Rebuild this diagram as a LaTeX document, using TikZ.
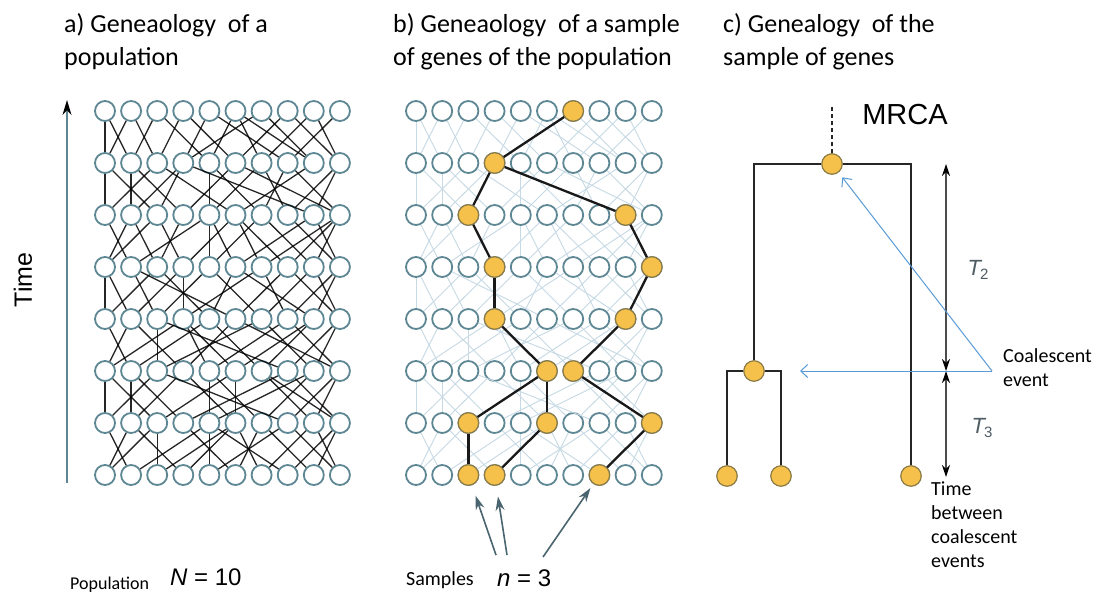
\documentclass[tikz,border=0pt]{standalone}
\usepackage{fontspec}
\setmainfont{Carlito}
\newfontfamily\arialfont{Liberation Sans}
\usetikzlibrary{arrows.meta}

\definecolor{ringcol}{HTML}{5E8794}
\definecolor{genecol}{HTML}{F6C14B}
\definecolor{generim}{HTML}{8C7B45}
\definecolor{faintcol}{HTML}{C6D9E4}
\definecolor{calloutcol}{HTML}{5B9BD5}
\definecolor{pointcol}{HTML}{4A6570}
\definecolor{labelcol}{HTML}{4E5C63}

\tikzset{
  indiv/.style={circle, draw=ringcol, line width=1.8pt, fill=white, minimum size=20pt, inner sep=0pt},
  gene/.style={circle, draw=generim, line width=1.2pt, fill=genecol, minimum size=20.5pt, inner sep=0pt},
  kin/.style={black, line width=1.3pt, opacity=0.85},
  faintkin/.style={faintcol, line width=0.9pt},
  lineage/.style={black!90, line width=2.3pt},
  branch/.style={black!85, line width=2.6pt},
  span/.style={black!70, line width=1.2pt, {Stealth[length=12pt,width=8pt,black]}-{Stealth[length=12pt,width=8pt,black]}},
  callout/.style={calloutcol, line width=1pt, -{Straight Barb[length=7pt,width=13pt]}},
  pointer/.style={pointcol, line width=1.6pt, -{Stealth[length=14pt,width=9pt]}},
  title/.style={anchor=north west, align=left, inner sep=0pt, font=\fontsize{26}{33}\selectfont},
  note/.style={anchor=west, align=left, inner sep=0pt, font=\fontsize{20}{24}\selectfont}
}

% parents (row above) of each gene, row by row
\newcommand\parentlist{%
  2/{2/1,1/3,2/4,7/5,3/6,8/4,6/9,5/10,7/6,8/9},
  3/{1/3,4/2,4/1,2/6,5/7,9/3,8/5,10/7,4/10,8/6},
  4/{2/3,1/5,4/2,3/6,7/5,5/9,6/10,10/6,7/10,9/8},
  5/{3/1,1/4,5/2,4/7,6/3,8/2,9/5,7/10,10/6,8/9},
  6/{2/4,5/1,3/7,6/2,8/4,4/9,9/5,10/3,7/10,6/8},
  7/{1/3,4/2,6/1,2/8,5/9,6/4,9/5,3/10,10/7,7/8},
  8/{2/3,1/5,3/6,6/2,5/8,4/7,9/6,10/5,7/10,8/9}}

\begin{document}
\begin{tikzpicture}[x=1pt, y=-1pt]
	\useasboundingbox[fill=white] (0,0) rectangle (1098,595);
	
	\node[title] (titleA) at (64,13) {a) Geneaology~ of a\\population};
	\node[title] (titleB) at (393,13) {b) Geneaology~ of a sample\\of genes of the population};
	\node[title] (titleC) at (723,13) {c) Genealogy~ of the\\sample of genes};
	
	\node[rotate=90, font=\arialfont\fontsize{25}{30}\selectfont] (time) at (23,280) {Time};
	\coordinate (timeBase) at (67,483);
	\coordinate (timeTip) at (67,100);
	\draw[ringcol, line width=1.6pt, -{Stealth[length=15pt,width=9pt,black]}] (timeBase) -- (timeTip);
	
	% the two grids of genes
	\foreach \r in {1,...,8} {
		\foreach \c in {1,...,10} {
			\node[indiv] (a-\r-\c) at ({105+26.1*(\c-1)},{111+52*(\r-1)}) {};
			\node[indiv] (b-\r-\c) at ({416+26.2*(\c-1)},{111+52*(\r-1)}) {};
		}
	}
	\foreach \r/\lst in \parentlist {
		\pgfmathtruncatemacro\rp{\r-1}
		\foreach \p/\q [count=\c] in \lst {
			\draw[kin] (a-\r-\c) -- (a-\rp-\p);
			\draw[kin] (a-\r-\c) -- (a-\rp-\q);
			\draw[faintkin] (b-\r-\c) -- (b-\rp-\p);
			\draw[faintkin] (b-\r-\c) -- (b-\rp-\q);
		}
	}
	
	% lineages of the sample
	\foreach \r/\c in {1/7,2/4,3/3,3/9,4/4,4/10,5/4,5/9,6/6,6/7,7/3,7/6,7/10,8/3,8/4,8/8}
		\node[gene] (s-\r-\c) at (b-\r-\c) {};
	\foreach \r/\c/\p in {2/4/7,3/3/4,3/9/4,4/4/3,4/10/9,5/4/4,5/9/10,6/6/4,6/7/9,7/3/6,7/6/6,7/10/7,8/3/3,8/4/6,8/8/10} {
		\pgfmathtruncatemacro\rp{\r-1}
		\draw[lineage] (s-\r-\c) -- (s-\rp-\p);
	}
	
	\node[anchor=west, inner sep=0pt, font=\fontsize{18}{20}\selectfont] (popname) at (70,585) {Population};
	\node[anchor=west, inner sep=0pt, font=\arialfont\fontsize{24}{28}\selectfont] (popsize) at (170,577) {\textit{N} = 10};
	\node[anchor=west, inner sep=0pt, font=\fontsize{20}{24}\selectfont] (sampname) at (406,580) {Samples};
	\node[anchor=west, inner sep=0pt, font=\arialfont\fontsize{24}{28}\selectfont] (sampsize) at (497,578) {\textit{n} = 3};
	\coordinate (pick1) at (496,555);
	\coordinate (pick2) at (507,555);
	\coordinate (pick3) at (543,557);
	\draw[pointer, shorten >=11pt] (pick1) -- (s-8-3);
	\draw[pointer, shorten >=11pt] (pick2) -- (s-8-4);
	\draw[pointer, shorten >=5pt] (pick3) -- (s-8-8);
	
	% coalescent tree
	\node[gene] (mrca) at (832,164) {};
	\node[gene] (split) at (754,371) {};
	\node[gene] (leafA) at (727,476) {};
	\node[gene] (leafB) at (781,476) {};
	\node[gene] (leafC) at (911,476) {};
	\coordinate (root) at (832,106);
	\draw[branch, dash pattern=on 4pt off 3pt] (mrca.north) -- (root);
	\draw[branch] (split.north) |- (mrca.west);
	\draw[branch] (mrca.east) -| (leafC.north);
	\draw[branch] (leafA.north) |- (split.west);
	\draw[branch] (split.east) -| (leafB.north);
	\node[font=\arialfont\fontsize{29}{32}\selectfont, text=black] (mrcaname) at (905,115) {MRCA};
	
	\coordinate (tTop) at (946,164);
	\coordinate (tMid) at (946,371);
	\coordinate (tBot) at (946,477);
	\draw[span] (tTop) -- (tMid);
	\draw[span] (tMid) -- (tBot);
	\node[text=labelcol, font=\arialfont\itshape\fontsize{22}{26}\selectfont] (ttwo) at (978,270) {T\kern-1pt\raisebox{-4pt}{\fontsize{15}{16}\selectfont\upshape 2}};
	\node[text=labelcol, font=\arialfont\itshape\fontsize{22}{26}\selectfont] (tthree) at (982,428) {T\kern-1pt\raisebox{-4pt}{\fontsize{15}{16}\selectfont\upshape 3}};
	
	\coordinate (callout) at (992,371);
	\coordinate (splitpoint) at (800,371);
	\draw[callout] (callout) -- (splitpoint);
	\draw[callout, shorten >=6pt] (callout) -- (mrca);
	\node[note] (coalname) at (1003,368) {Coalescent\\event};
	\node[note, anchor=north west] (gapname) at (931,482) {Time\\between\\coalescent\\events};
\end{tikzpicture}
\end{document}
